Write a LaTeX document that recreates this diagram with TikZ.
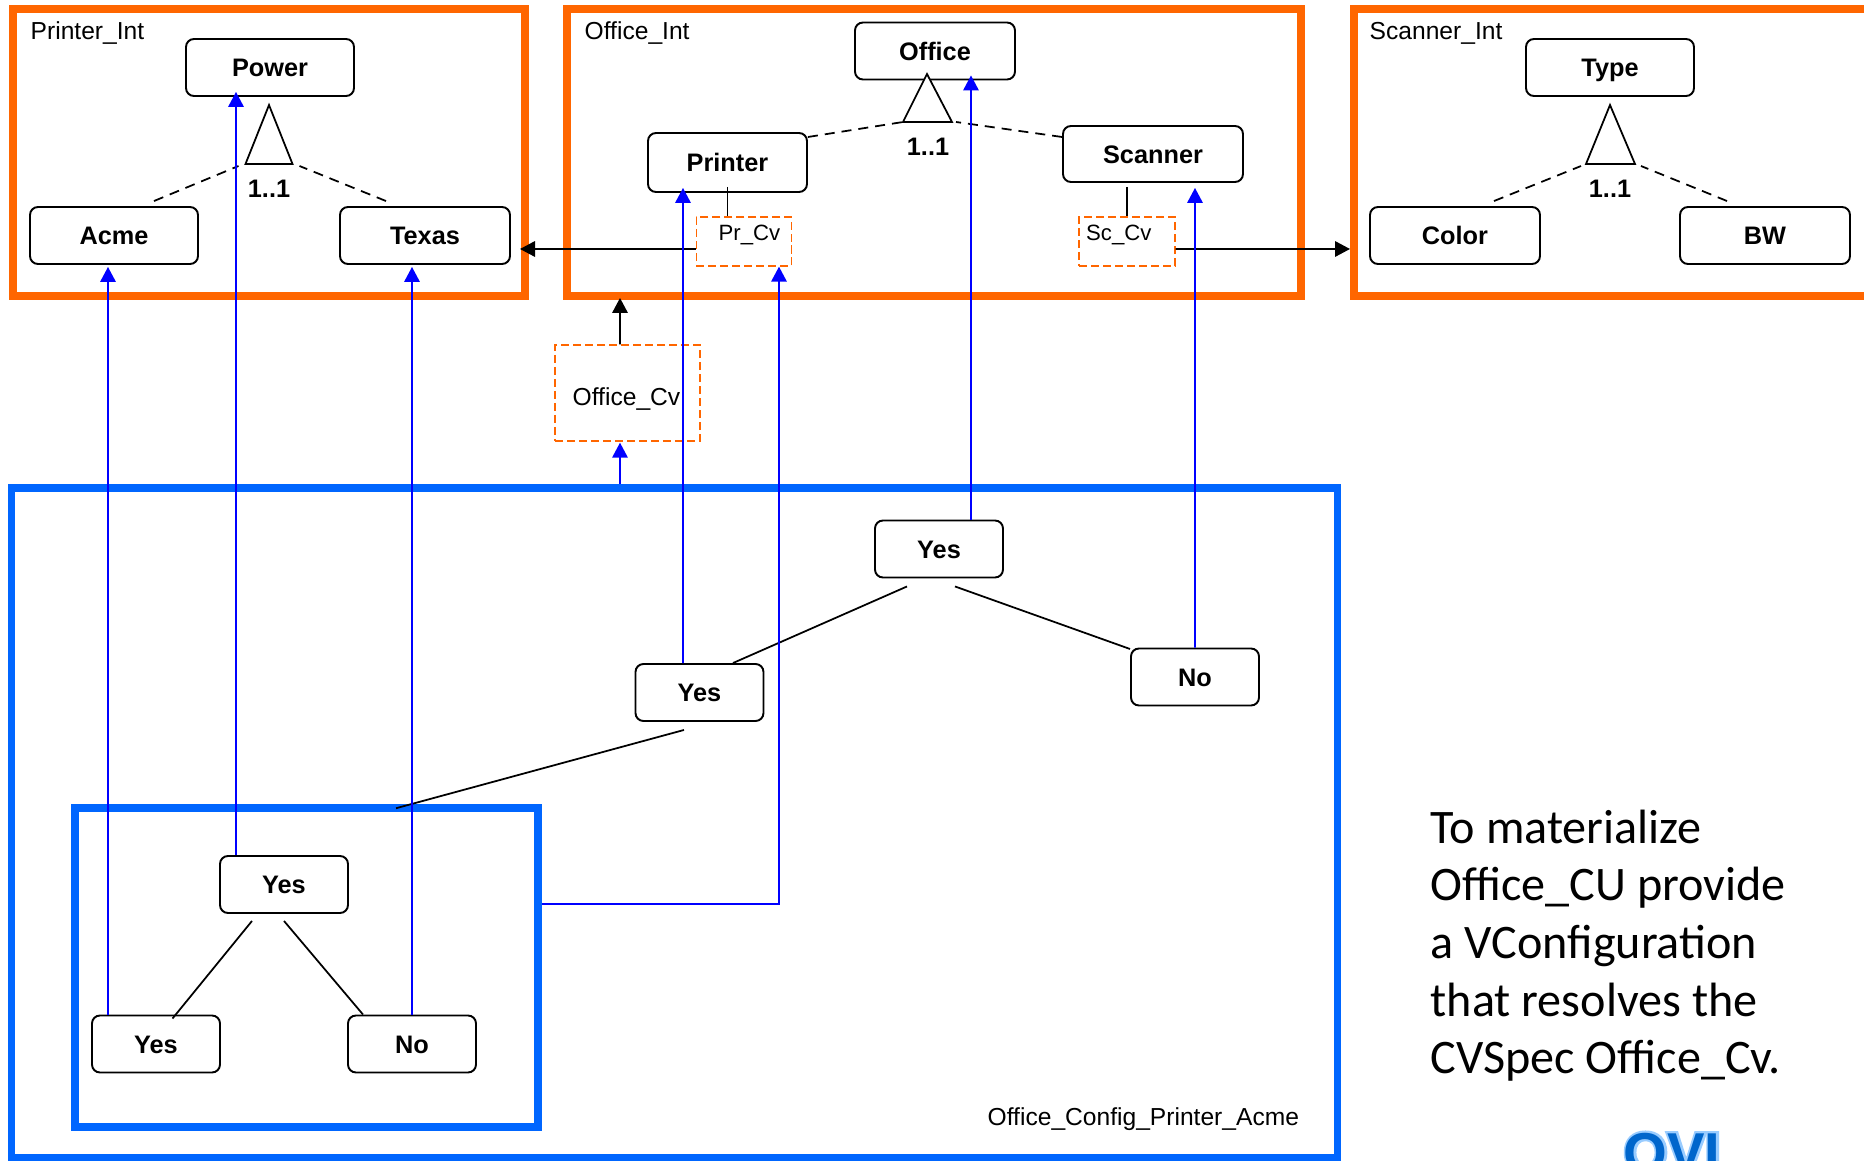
\documentclass[tikz,border=0pt]{standalone}
\usepackage{fontspec}
\setmainfont{Liberation Sans}
\newfontfamily\notefont{Carlito}
\newfontface\logofont{Liberation Sans Bold}
\newfontface\logoedge{Liberation Sans Bold}[FakeBold=8]
\usetikzlibrary{arrows.meta}
\definecolor{intorange}{HTML}{FF6600}
\definecolor{cfgblue}{HTML}{0066FF}
\definecolor{logoblue}{HTML}{0066CC}
\definecolor{logolight}{HTML}{99CCFF}
\tikzset{
  intbox/.style={draw=intorange,line width=.08cm,minimum height=2.87cm,inner sep=0},
  cfgbox/.style={draw=cfgblue,line width=.075cm,inner sep=0},
  feature/.style={draw,line width=.55pt,rounded corners=.08cm,minimum width=1.68cm,minimum height=.57cm,inner sep=0,text height=5.2pt,text depth=0pt,font=\fontsize{7.2}{8.6}\selectfont\bfseries},
  choice/.style={feature,minimum width=1.28cm},
  cvbox/.style={draw=intorange,line width=.4pt,dash pattern=on .08cm off .04cm,inner sep=0},
  lbl/.style={anchor=west,inner sep=0,font=\fontsize{7}{8.4}\selectfont},
  cvlbl/.style={lbl,font=\fontsize{6.3}{7.6}\selectfont},
  card/.style={inner sep=0,font=\fontsize{7.2}{8.6}\selectfont\bfseries},
  bluearrow/.style={-{Triangle[length=.15cm,width=.155cm]},blue,line width=.5pt},
  blackarrow/.style={-{Triangle[length=.15cm,width=.155cm]},black,line width=.5pt},
  optline/.style={line width=.5pt,dash pattern=on .1cm off .07cm},
  plainline/.style={line width=.5pt},
}

\begin{document}
\begin{tikzpicture}
  \useasboundingbox (0,0) rectangle (18.64,-11.61);
  \clip (0,0) rectangle (18.64,-11.61);

  % interfaces
  \node [intbox,minimum width=5.12cm] (printerint) at (2.69,-1.525) {};
  \node [intbox,minimum width=7.34cm] (officeint) at (9.34,-1.525) {};
  \node [intbox,minimum width=5.26cm] (scannerint) at (16.17,-1.525) {};
  \node [lbl] (printerlbl) at (0.30,-0.33) {Printer\_Int};
  \node [lbl] (officelbl) at (5.84,-0.33) {Office\_Int};
  \node [lbl] (scannerlbl) at (13.69,-0.33) {Scanner\_Int};

  % configurations
  \node [cfgbox,minimum width=13.26cm,minimum height=6.70cm] (bigbox) at (6.745,-8.23) {};
  \node [cfgbox,minimum width=4.63cm,minimum height=3.19cm] (subbox) at (3.065,-9.675) {};
  \node [lbl] (cfglbl) at (9.87,-11.19) {Office\_Config\_Printer\_Acme};

  \node [feature] (power) at (2.70,-0.675) {Power};
  \node [feature] (acme) at (1.14,-2.355) {Acme};
  \node [feature,minimum width=1.70cm] (texas) at (4.25,-2.355) {Texas};
  \node [feature,minimum width=1.60cm] (office) at (9.35,-0.51) {Office};
  \node [feature,minimum width=1.59cm,minimum height=.59cm] (printer) at (7.275,-1.625) {Printer};
  \node [feature,minimum width=1.80cm,minimum height=.56cm] (scanner) at (11.53,-1.54) {Scanner};
  \node [feature] (type) at (16.10,-0.675) {Type};
  \node [feature,minimum width=1.70cm] (color) at (14.55,-2.355) {Color};
  \node [feature,minimum width=1.70cm] (bw) at (17.65,-2.355) {BW};

  \node [choice] (rootyes) at (9.39,-5.49) {Yes};
  \node [choice] (midyes) at (6.995,-6.925) {Yes};
  \node [choice] (rootno) at (11.95,-6.77) {No};
  \node [choice] (subyes) at (2.84,-8.845) {Yes};
  \node [choice] (leafyes) at (1.56,-10.44) {Yes};
  \node [choice] (leafno) at (4.12,-10.44) {No};

  \node [cvbox,minimum width=.955cm,minimum height=.49cm] (prcv) at (7.44,-2.415) {};
  \node [cvbox,minimum width=.96cm,minimum height=.49cm] (sccv) at (11.27,-2.415) {};
  \node [cvbox,minimum width=1.45cm,minimum height=.96cm] (officecv) at (6.275,-3.93) {};
  \node [cvlbl] (prlbl) at (7.18,-2.345) {Pr\_Cv};
  \node [cvlbl] (sclbl) at (10.855,-2.345) {Sc\_Cv};
  \node [lbl] (officecvlbl) at (5.72,-3.995) {Office\_Cv};

  % alternatives
  \draw [plainline,fill=white] (2.69,-1.05) coordinate (powertri) -- ++(-.235,-.59) coordinate (powerleft) -- ++(.47,0) coordinate (powerright) -- cycle;
  \draw [plainline,fill=white] (9.27,-0.74) coordinate (officetri) -- ++(-.24,-.48) coordinate (officeleft) -- ++(.49,0) coordinate (officeright) -- cycle;
  \draw [plainline,fill=white] (16.10,-1.05) coordinate (typetri) -- ++(-.24,-.59) coordinate (typeleft) -- ++(.49,0) coordinate (typeright) -- cycle;
  \node [card] (powercard) at (2.69,-1.89) {1..1};
  \node [card] (officecard) at (9.28,-1.47) {1..1};
  \node [card] (typecard) at (16.10,-1.89) {1..1};

  \draw [optline] ([shift={(.40,.05)}]acme.north) -- ([shift={(-.07,-.02)}]powerleft);
  \draw [optline] ([shift={(-.39,.05)}]texas.north) -- ([shift={(.07,-.02)}]powerright);
  \draw [optline] ([yshift=.255cm]printer.east) -- (officeleft);
  \draw [optline] ([yshift=.17cm]scanner.west) -- ([xshift=.04cm]officeright);
  \draw [optline] ([shift={(.39,.05)}]color.north) -- ([shift={(-.05,-.02)}]typeleft);
  \draw [optline] ([shift={(-.38,.05)}]bw.north) -- ([shift={(.06,-.02)}]typeright);

  \draw [plainline] ([yshift=.06cm]printer.south) -- (printer.south |- prcv.north);
  \draw [plainline] ([yshift=-.04cm]sccv.north |- scanner.south) -- (sccv.north);

  % tree
  \draw [plainline] ([shift={(-.32,-.08)}]rootyes.south) -- ([xshift=.335cm]midyes.north);
  \draw [plainline] ([shift={(.16,-.08)}]rootyes.south) -- ([yshift=.28cm]rootno.west);
  \draw [plainline] ([shift={(-.155,-.08)}]midyes.south) -- ([shift={(.895,-.04)}]subbox.north);
  \draw [plainline] ([shift={(-.32,-.07)}]subyes.south) -- ([shift={(.165,-.04)}]leafyes.north);
  \draw [plainline] ([yshift=-.07cm]subyes.south) -- ([xshift=-.49cm]leafno.north);

  % black arrows
  \draw [blackarrow] ([yshift=-.075cm]prcv.west) -- ([shift={(-.09,-.965)}]printerint.east);
  \draw [blackarrow] ([yshift=-.075cm]sccv.east) -- ([yshift=-.965cm]scannerint.west);
  \draw [blackarrow] ([xshift=-.075cm]officecv.north) -- ([shift={(-3.14,.02)}]officeint.south);

  % blue arrows
  \draw [bluearrow] ([xshift=-.06cm]acme.south |- leafyes.north) -- ([shift={(-.06,-.02)}]acme.south);
  \draw [bluearrow] ([xshift=-.34cm]power.south |- subyes.north) -- ([shift={(-.34,.05)}]power.south);
  \draw [bluearrow] ([xshift=-.13cm]texas.south |- leafno.north) -- ([shift={(-.13,-.02)}]texas.south);
  \draw [bluearrow] ([xshift=-.445cm]printer.south |- midyes.north) -- ([shift={(-.445,.05)}]printer.south);
  \draw [bluearrow] ([xshift=.36cm]office.south |- rootyes.north) -- ([shift={(.36,.05)}]office.south);
  \draw [bluearrow] ([xshift=.42cm]scanner.south |- rootno.north) -- ([shift={(.42,-.05)}]scanner.south);
  \draw [bluearrow] ([yshift=.635cm]subbox.east) -| ([xshift=.35cm]prcv.south);
  \draw [bluearrow] ([xshift=-.075cm]officecv.south |- bigbox.north) -- ([shift={(-.075,-.01)}]officecv.south);

  \node [anchor=north west,align=left,inner sep=0,font=\notefont\fontsize{13.7}{16.4}\selectfont] (note) at (14.30,-8.09) {To materialize\\Office\_CU provide\\a VConfiguration\\that resolves the\\CVSpec Office\_Cv.};

  % logo, cut off by the page
  \node [anchor=base west,inner sep=0,text=logolight,font=\logoedge\fontsize{16}{16}\selectfont] (logoback) at (16.23,-11.72) {OVI};
  \node [anchor=base west,inner sep=0,text=logoblue,font=\logofont\fontsize{16}{16}\selectfont] (logofront) at (16.23,-11.72) {OVI};
\end{tikzpicture}
\end{document}
